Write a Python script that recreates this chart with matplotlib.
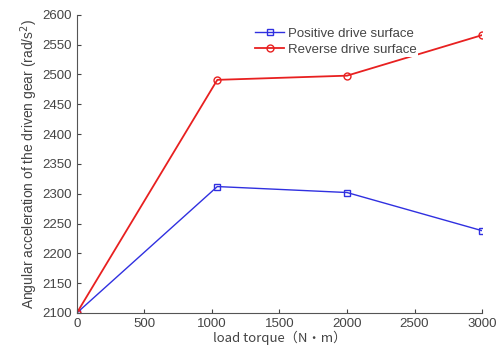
import matplotlib.pyplot as plt

# values
torque = [0, 1040, 2000, 3000]
positive = [2100, 2312, 2302, 2238]
reverse = [2100, 2491, 2498, 2566]
x_ticks = [0, 500, 1000, 1500, 2000, 2500, 3000]
y_ticks = [2100, 2150, 2200, 2250, 2300, 2350, 2400, 2450, 2500, 2550, 2600]

plt.rcParams['font.family'] = ['Liberation Sans', 'DejaVu Sans']

fig = plt.figure(figsize=(4.99, 3.54), dpi=100)
ax = fig.add_axes([0.154, 0.116, 0.812, 0.842])

ax.plot(torque, positive, color='#3030e0', lw=1.0, marker='s', ms=5,
        mfc='none', mec='#3030e0', label='Positive drive surface')
ax.plot(torque, reverse, color='#e82020', lw=1.3, marker='o', ms=5,
        mfc='none', mec='#e82020', label='Reverse drive surface')

ax.set_xlim(0, 3000)
ax.set_ylim(2100, 2600)
ax.set_xticks(x_ticks)
ax.set_yticks(y_ticks)
ax.tick_params(direction='in', length=3, labelsize=9.5, colors='#444444')
for s in ['top', 'right']:
    ax.spines[s].set_visible(False)
for s in ['left', 'bottom']:
    ax.spines[s].set_color('#555555')

ax.set_xlabel('load torque（N·m）', fontsize=9.5, color='#444444', labelpad=1,
              family=['Noto Sans CJK SC', 'DejaVu Sans'])
ax.set_ylabel('Angular acceleration of the driven gear (rad/s$^2$)', fontsize=10,
              color='#444444', labelpad=2)

leg = ax.legend(loc='upper left', bbox_to_anchor=(0.43, 0.97), frameon=True,
                fontsize=9.5, labelcolor='#444444', handlelength=2.2,
                handletextpad=0.3, borderaxespad=0.2, labelspacing=0.25,
                borderpad=0.1, fancybox=False)
leg.get_frame().set_edgecolor('none')
leg.get_frame().set_facecolor('white')
leg.get_frame().set_alpha(1)

fig.savefig('out.png', dpi=100)
